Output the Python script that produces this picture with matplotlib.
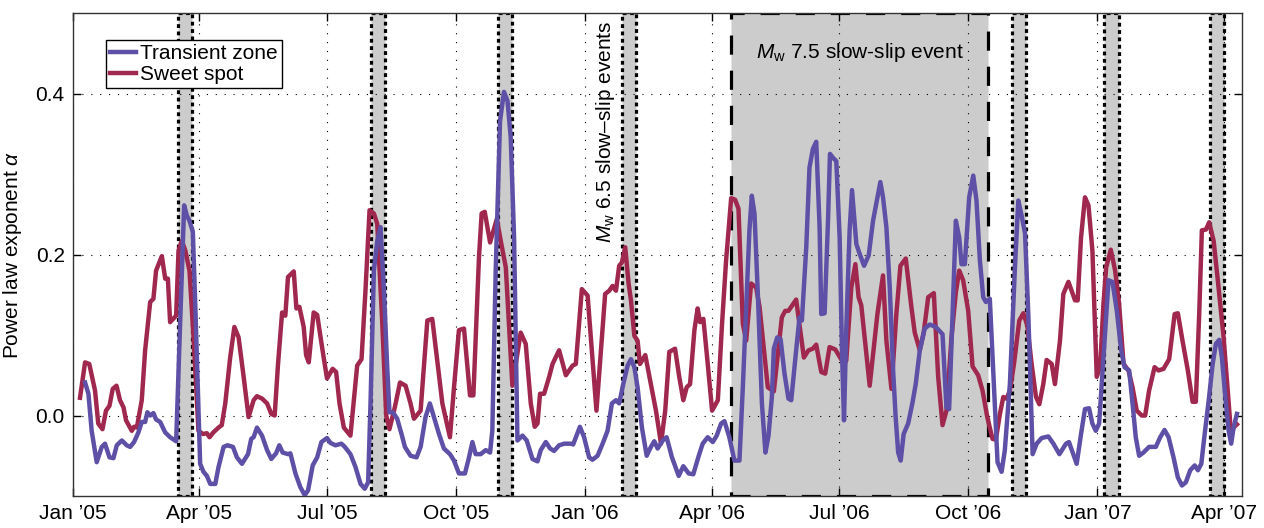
import numpy as np
import matplotlib
matplotlib.use('Agg')
import matplotlib.pyplot as plt
import matplotlib.dates as mdates

plt.rcParams['font.family'] = ['Liberation Sans', 'DejaVu Sans']
plt.rcParams['mathtext.fontset'] = 'custom'
plt.rcParams['mathtext.rm'] = 'Liberation Sans'
plt.rcParams['mathtext.it'] = 'Liberation Sans:italic'

START = '2005-01-01'
END = '2007-04-14'

# days since START
sweet_days = [5, 8.6, 11.6, 15.7, 18, 21, 23.5, 26, 28.3, 31, 33.5, 36, 37.8, 41.9, 43.5, 45.5, 49, 51.4, 55, 57.3, 59.2, 63.3, 65.7, 67.6, 69.2, 73.5, 75.2, 77.6, 80, 83, 85.9, 89.4, 92.6, 95.4, 97.3, 100, 103.7, 106, 108.5, 112, 115, 118,
              121.6, 125.1, 128.7, 131.1, 134.7, 138.3, 141.3, 143.7, 146.1, 149, 151.3, 153.2, 157.3, 159.2, 161.3, 164.4, 166.1, 168, 171.5, 174, 178, 181, 185, 187.5, 189.9, 193, 197.7, 202.5, 205.6, 208.4, 211.3, 214.4, 216.8, 220.3, 223.2, 225.5, 229.3, 233,
              237, 240.5, 243, 247.7, 252.5, 256, 259.6, 263.2, 268.6, 271.5, 275, 278.6, 282.9, 285.3, 289.3, 291.2, 293.4, 297.2, 302, 304.8, 308.4, 313.1, 316.2, 319, 322.6, 326.2, 329, 331, 332.8, 335.7, 339.3, 341.7, 346.4, 351.2,
              356, 358.3, 362.6, 366.7, 373, 379.2, 382.1, 384.5, 386.9, 389.2, 391.1, 393.5, 395.9, 397.6, 400, 402.3, 404, 407.8, 411.8, 415.4, 419, 422, 424.9, 429, 432, 434.9, 437.3, 439.7, 442.8, 445.1, 446.8, 449.2, 452.3, 455.4, 459.5, 462.5, 465.4, 469, 471.8, 474.2,
              477.3, 479.7, 483.2, 486.8, 489.2, 495.1, 499.4, 502.3, 505.1, 507.5, 509.8, 511.8, 515.3, 520.8, 524.1, 527.2, 529.6, 533.2, 536, 539.1, 543.2, 549.4, 551, 554.6, 557.5, 559.8, 561.7, 567.7, 573.2, 577.2, 579.6, 583.2, 586.7,
              589.6, 593.4, 597.4, 599.8, 603.4, 606.2, 609.4, 613.4, 616.5, 619.6, 622.4, 626, 629.1, 631.5, 634.3, 637.9, 641, 645, 648.1, 651.5, 655.2, 657.6, 660.5, 662.9, 665.2, 667.6, 670.5, 674.3, 677.2, 680, 683.1, 686.2, 688.6, 691.4, 693.8, 697.4, 699.7, 703.3, 705.7,
              709.3, 711.6, 714, 715.9, 718.3, 721.1, 723.6, 726.4, 729.5, 731.9, 734.3, 736.2, 739.5, 742.6, 745.4, 748.6, 752.1, 755, 758, 761.6, 764, 766.8, 770.7, 773.5, 777.1, 781.1, 785, 787.3, 790.6, 794.4, 797.8, 800.1, 802.5, 804.4, 807.3, 809.6, 812.8, 816.3, 819.9, 823.5, 825.3, 827, 829.4]
sweet_alpha = [0.022, 0.066, 0.064, 0.031, -0.010, -0.017, 0.006, 0.012, 0.033, 0.037, 0.019, 0.010, -0.006, -0.019, -0.014, -0.015, 0.019, 0.081, 0.141, 0.145, 0.180, 0.198, 0.170, 0.170, 0.116, 0.124, 0.205, 0.217, 0.205, 0.180, 0.097, -0.019, -0.023, -0.022, -0.027, -0.021, -0.015, -0.012, 0.015, 0.072, 0.110, 0.097,
               0.048, -0.002, 0.019, 0.024, 0.021, 0.015, 0.002, 0.000, 0.064, 0.128, 0.124, 0.172, 0.179, 0.133, 0.135, 0.110, 0.075, 0.066, 0.128, 0.125, 0.079, 0.046, 0.058, 0.054, 0.015, -0.015, -0.025, 0.062, 0.070, 0.155, 0.255, 0.251, 0.238, 0.118, 0.000, -0.017, 0.010, 0.041,
               0.037, 0.015, -0.004, 0.006, 0.118, 0.120, 0.068, 0.015, -0.027, 0.035, 0.106, 0.108, 0.025, 0.025, 0.197, 0.251, 0.253, 0.215, 0.244, 0.217, 0.184, 0.037, 0.072, 0.103, 0.089, 0.015, -0.014, -0.010, 0.027, 0.027, 0.048, 0.064, 0.081, 0.050,
               0.062, 0.064, 0.157, 0.149, 0.006, 0.151, 0.155, 0.161, 0.155, 0.186, 0.190, 0.209, 0.164, 0.143, 0.099, 0.093, 0.064, 0.075, 0.039, 0.006, -0.035, 0.006, 0.079, 0.083, 0.048, 0.019, 0.035, 0.039, 0.106, 0.133, 0.116, 0.120, 0.064, 0.006, 0.019, 0.114, 0.193, 0.270, 0.268, 0.257,
               0.114, 0.093, 0.164, 0.159, 0.135, 0.035, 0.030, 0.077, 0.122, 0.130, 0.130, 0.135, 0.144, 0.072, 0.081, 0.083, 0.088, 0.054, 0.052, 0.085, 0.082, 0.064, 0.068, 0.159, 0.188, 0.147, 0.137, 0.037, 0.126, 0.174, 0.093, 0.033, 0.126,
               0.186, 0.195, 0.135, 0.103, 0.081, 0.103, 0.147, 0.152, 0.048, -0.012, 0.006, 0.097, 0.153, 0.180, 0.168, 0.130, 0.061, 0.050, 0.031, -0.002, -0.029, -0.030, 0.002, 0.023, 0.021, 0.031, 0.064, 0.118, 0.127, 0.112, 0.064, 0.023, 0.014, 0.039, 0.069, 0.064, 0.039, 0.093, 0.151,
               0.166, 0.155, 0.143, 0.143, 0.221, 0.271, 0.261, 0.205, 0.048, 0.060, 0.139, 0.184, 0.206, 0.180, 0.139, 0.064, 0.056, 0.035, 0.006, 0.000, 0.000, 0.031, 0.060, 0.056, 0.058, 0.070, 0.126, 0.127, 0.093, 0.056, 0.017, 0.017, 0.126, 0.230, 0.231, 0.240, 0.217, 0.159, 0.097, 0.015, -0.025, -0.015, -0.011]

transient_days = [8.6, 11, 13.3, 16.9, 20.5, 22.8, 26, 28.8, 31.2, 34.8, 38.3, 40.7, 43.5, 46.6, 49, 51.4, 53, 55, 57.3, 59.2, 62.1, 65.7, 69.2, 73.5, 75.2, 77.6, 79.2, 81.2, 83, 85.4, 87.1, 90.6, 93, 95.4, 97.8, 101.4, 103.7, 107.3, 110.1, 114, 116.8,
                  120.4, 124.7, 127, 128.7, 131.1, 134.7, 138.3, 141.3, 144.7, 147, 149.4, 153.2, 154.9, 158.5, 162, 165.1, 167.5, 170.8, 174, 177, 181, 183.4, 187, 191.3, 193.7, 197.7, 201.3, 204.9, 207.9, 210.3, 212, 214.4, 216.8, 219.1, 221.5, 223.9, 225.5, 227.9, 231, 234.1, 236.5,
                  240.5, 244.8, 247.7, 251.2, 254.3, 257.2, 260.8, 264.3, 268.6, 271.5, 275, 279.3, 282.2, 284.6, 286.9, 290.5, 294.1, 297.2, 298.8, 301.2, 304.3, 307.1, 309.6, 311.9, 314.3, 316.7, 320.3, 323.3, 327.4, 331, 333.3, 336.9, 340, 342.8, 346.4, 350, 354.7,
                  356.4, 361.2, 364.2, 367.8, 370.2, 373.8, 377.4, 380.9, 384, 386.9, 389.2, 392.1, 395.2, 397.6, 400, 402.3, 405.4, 408.8, 411.8, 414.2, 416.6, 420.2, 423, 426.8, 431.6, 434.9, 438.7, 442, 445.9, 448.7, 452.3, 455.9, 458.7, 461.8, 464.2, 467.7, 471.3,
                  474.9, 477.3, 479.7, 482, 483.7, 485.6, 488, 490.9, 493.4, 495.6, 498, 499.4, 501.8, 504.2, 507, 509.8, 511.8, 515.3, 517.7, 519.4, 522.5, 524.8, 527.2, 529.6, 532, 533.2, 535.6, 538, 539.4, 541.6, 543.9, 546.3, 548, 549.4, 551, 553.4, 555.1, 558.2, 560.5, 563.7, 567, 570.1, 573.7, 575.3, 577.2, 579.6, 582, 584.4, 586.2, 588, 589.8,
                  591.9, 595.1, 598.1, 600.5, 603.4, 606.9, 610.5, 614.8, 619.6, 622.4, 624.3, 626.7, 629.1, 631.5, 633.1, 635.5, 638.6, 641.5, 643.8, 646.2, 648.6, 650.5, 653.3, 656.2, 658.8, 661.7, 664, 667.6, 671.2, 673.6, 676, 678.4, 680.8, 683.8, 686.7, 690.2, 695, 698.6, 702.9,
                  707.6, 709.7, 715.2, 718.3, 721.1, 724, 726.4, 728.8, 731.2, 734.3, 737.9, 740.7, 743.8, 746.9, 749.3, 752.6, 755, 757.3, 759.7, 762.8, 766.8, 771.6, 774.7, 777.8, 780.7, 784.2, 787.3, 790.2, 793, 796.1, 799.3, 801.6, 804, 806.4, 809.3, 812.1, 814.4, 816.8, 818.7, 821.1, 823.5, 825.3, 827, 829.4]
transient_alpha = [0.041, 0.027, -0.019, -0.058, -0.039, -0.035, -0.052, -0.053, -0.037, -0.031, -0.037, -0.039, -0.033, -0.021, -0.008, -0.008, 0.004, 0.000, 0.003, -0.005, -0.008, -0.021, -0.027, -0.032, 0.056, 0.180, 0.261, 0.248, 0.242, 0.228, 0.139, -0.060, -0.070, -0.075, -0.085, -0.085, -0.064, -0.039, -0.037, -0.039, -0.052,
                   -0.060, -0.048, -0.029, -0.027, -0.015, -0.025, -0.043, -0.054, -0.047, -0.037, -0.046, -0.048, -0.047, -0.072, -0.089, -0.099, -0.093, -0.062, -0.052, -0.033, -0.028, -0.034, -0.037, -0.035, -0.039, -0.048, -0.064, -0.085, -0.091, -0.083, 0.015, 0.180, 0.217, 0.234, 0.159, 0.060, 0.004, 0.004, -0.004, -0.023, -0.039,
                   -0.050, -0.052, -0.039, -0.002, 0.015, -0.002, -0.023, -0.041, -0.048, -0.056, -0.072, -0.072, -0.052, -0.033, -0.048, -0.048, -0.043, -0.046, -0.019, 0.180, 0.366, 0.402, 0.391, 0.346, 0.221, -0.031, -0.025, -0.031, -0.054, -0.057, -0.043, -0.033, -0.041, -0.044, -0.037, -0.035, -0.035,
                   -0.036, -0.014, -0.027, -0.052, -0.055, -0.050, -0.035, -0.019, 0.015, 0.019, 0.015, 0.039, 0.062, 0.070, 0.060, 0.035, -0.015, -0.050, -0.039, -0.032, -0.041, -0.031, -0.027, -0.052, -0.075, -0.063, -0.072, -0.073, -0.050, -0.035, -0.027, -0.033, -0.025, -0.010, -0.007, -0.027, -0.056,
                   -0.056, 0.035, 0.135, 0.230, 0.273, 0.251, 0.151, 0.015, -0.046, -0.025, 0.023, 0.083, 0.097, 0.095, 0.052, 0.021, 0.019, 0.081, 0.122, 0.118, 0.209, 0.308, 0.331, 0.340, 0.234, 0.126, 0.127, 0.242, 0.325, 0.320, 0.316, 0.221, 0.077, -0.006, 0.106, 0.230, 0.280, 0.213, 0.201, 0.186, 0.199, 0.242, 0.275, 0.290, 0.271, 0.234, 0.159, 0.056, -0.002, -0.046, -0.056,
                   -0.023, -0.010, 0.015, 0.039, 0.081, 0.108, 0.113, 0.110, 0.101, 0.010, 0.008, 0.122, 0.242, 0.221, 0.188, 0.188, 0.271, 0.298, 0.267, 0.193, 0.147, 0.141, 0.145, 0.039, -0.058, -0.070, -0.043, 0.039, 0.184, 0.267, 0.248, 0.226, 0.122, -0.048, -0.035, -0.028, -0.026, -0.035, -0.048,
                   -0.035, -0.033, -0.060, -0.023, 0.008, 0.009, -0.010, -0.019, -0.010, 0.072, 0.168, 0.166, 0.130, 0.081, 0.060, 0.056, 0.015, -0.027, -0.050, -0.046, -0.039, -0.039, -0.027, -0.018, -0.027, -0.052, -0.077, -0.087, -0.083, -0.068, -0.062, -0.068, -0.060, -0.023, 0.019, 0.064, 0.089, 0.094, 0.072, 0.023, -0.019, -0.035, -0.015, 0.002]

# Mw 6.5 slow-slip events (start, end)
small_events = [('2005-03-17', '2005-03-27'), ('2005-08-01', '2005-08-11'),
                ('2005-10-31', '2005-11-10'), ('2006-01-27', '2006-02-06'),
                ('2006-11-01', '2006-11-11'), ('2007-01-06', '2007-01-16'),
                ('2007-03-22', '2007-04-01')]
big_event = ('2006-04-15', '2006-10-15')

BLUE = '#5D50A6'
RED = '#A0284F'
GRAY = '#cccccc'

base = mdates.datestr2num(START)

fig = plt.figure(figsize=(12.64, 5.28), dpi=100)
ax = fig.add_axes([73 / 1264, 1 - 496 / 528, 1169 / 1264, 483 / 528])

# shaded slow-slip periods
for s, e in small_events:
    ax.axvspan(mdates.datestr2num(s), mdates.datestr2num(e), facecolor=GRAY,
               edgecolor='k', lw=2.3, linestyle=(0, (1.2, 1.1)), zorder=1)
ax.axvspan(mdates.datestr2num(big_event[0]), mdates.datestr2num(big_event[1]),
           facecolor=GRAY, edgecolor='k', lw=2.3, linestyle=(0, (6, 5)), zorder=1)

l_red, = ax.plot(base + np.array(sweet_days), sweet_alpha, color=RED, lw=3.2,
                 solid_joinstyle='round', zorder=3)
l_blue, = ax.plot(base + np.array(transient_days), transient_alpha, color=BLUE, lw=3.2,
                  solid_joinstyle='round', zorder=4)

ax.set_xlim(mdates.datestr2num(START), mdates.datestr2num(END))
ax.set_ylim(-0.1, 0.5)
ax.set_yticks([0.0, 0.2, 0.4])
ax.yaxis.set_major_formatter(matplotlib.ticker.FormatStrFormatter('%.1f'))
ax.xaxis.set_major_locator(mdates.MonthLocator(bymonth=[1, 4, 7, 10]))
ax.xaxis.set_major_formatter(mdates.DateFormatter('%b \u2019%y'))

ax.tick_params(direction='in', length=6, width=1, top=True, right=True, labelsize=15, pad=6)
ax.grid(True, color='k', lw=0.8, linestyle=(0, (1, 7)))
for sp in ax.spines.values():
    sp.set_linewidth(1)
    sp.set_color('#333333')

ax.set_ylabel(r'Power law exponent $\alpha$', fontsize=15, labelpad=8)

ax.text(base + 561, 0.451, r'$M_{\mathrm{w}}$ 7.5 slow-slip event', fontsize=15,
        ha='center', va='center', zorder=5)
ax.text(base + 379.5, 0.352, '$M_{\\mathrm{w}}$ 6.5 slow\u2013slip events', fontsize=15,
        ha='center', va='center', rotation=90, zorder=5)

leg = ax.legend([l_blue, l_red], ['Transient zone', 'Sweet spot'], loc='upper left',
                bbox_to_anchor=(0.028, 0.944), borderaxespad=0, fontsize=15,
                fancybox=False, framealpha=1, edgecolor='k', handlelength=1.25,
                handletextpad=0.2, labelspacing=0.1, borderpad=0.2)
leg.get_frame().set_linewidth(1)
leg.set_zorder(6)

fig.savefig('out.png', dpi=100)
